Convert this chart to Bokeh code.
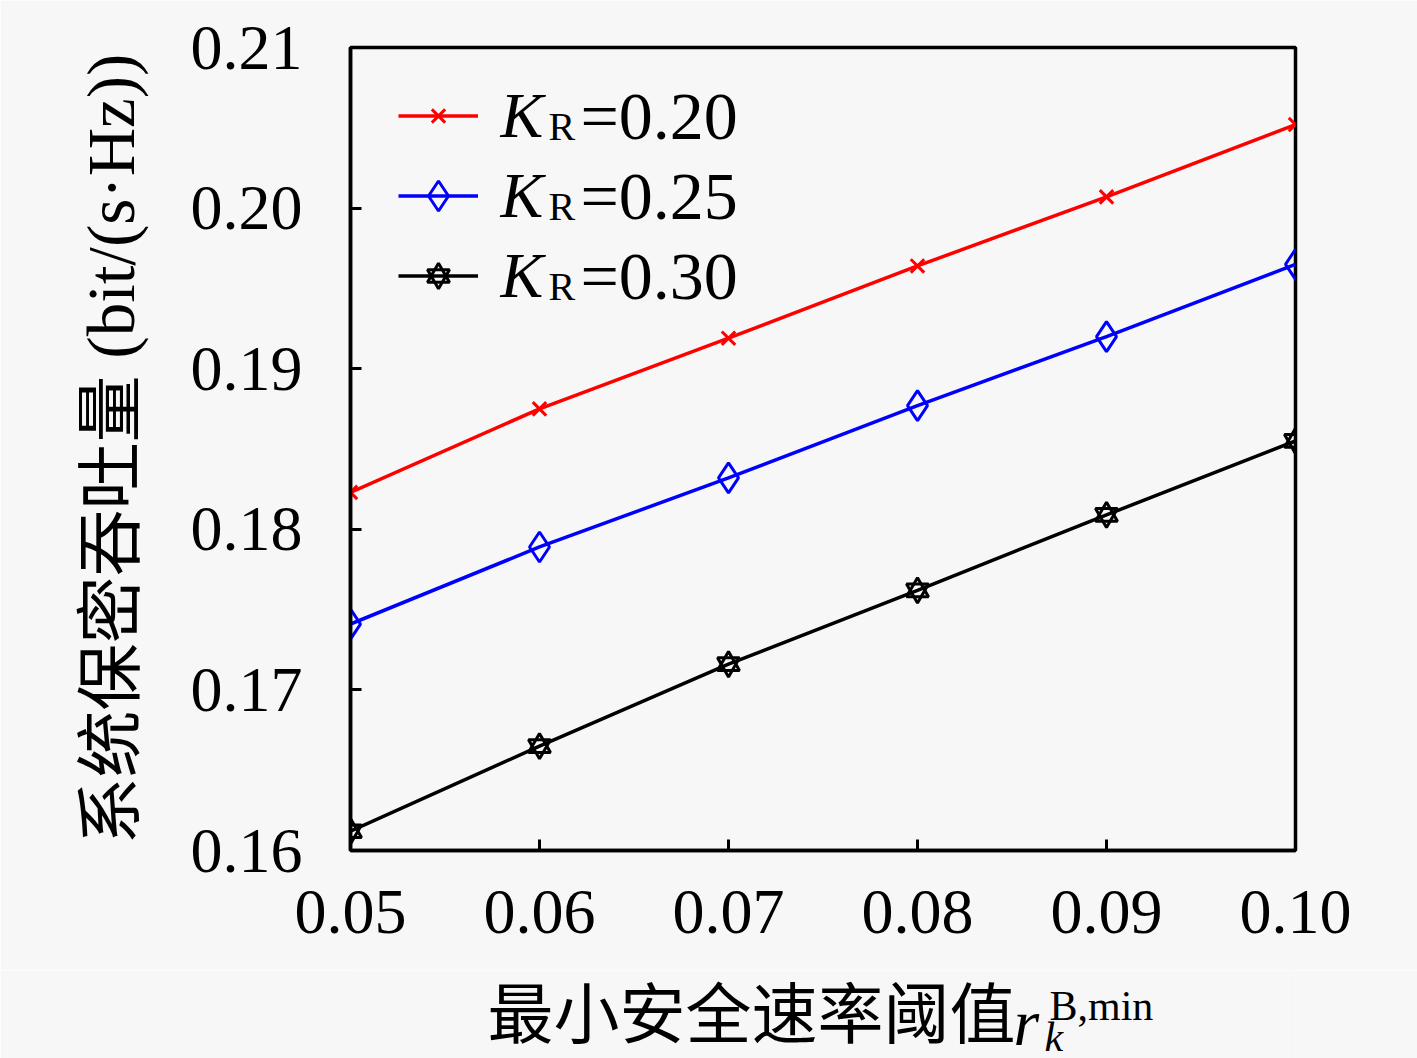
from bokeh.plotting import figure
from bokeh.layouts import column
from bokeh.models import (Range1d, FixedTicker, PrintfTickFormatter, Legend, LegendItem, Label)
from bokeh.embed import file_html
from bokeh.resources import INLINE

# ---- data ----
x_vals = [0.05, 0.06, 0.07, 0.08, 0.09, 0.10]
kr020 = [0.1823, 0.1875, 0.1919, 0.1964, 0.2007, 0.2052]
kr025 = [0.1741, 0.1789, 0.1832, 0.1877, 0.1920, 0.1965]
kr030 = [0.1612, 0.1665, 0.1716, 0.1762, 0.1809, 0.1855]
x_ticks = [0.05, 0.06, 0.07, 0.08, 0.09, 0.10]
y_ticks = [0.16, 0.17, 0.18, 0.19, 0.20, 0.21]
legend_values = ["=0.20", "=0.25", "=0.30"]
y_label = "系统保密吞吐量 (bit/(s·Hz))"
x_label_cjk = "最小安全速率阈值"

SERIF = "Liberation Serif, Noto Sans CJK SC"
BG = "#f7f7f7"

p = figure(width=1417, height=970, output_backend="svg", toolbar_location=None,
           x_range=Range1d(0.05, 0.10), y_range=Range1d(0.16, 0.21),
           min_border_left=350, min_border_right=122, min_border_top=47, min_border_bottom=120)
p.background_fill_color = BG
p.border_fill_color = BG
p.grid.visible = False
p.outline_line_color = "black"
p.outline_line_width = 3.5

for ax in (p.xaxis[0], p.yaxis[0]):
    ax.axis_line_width = 3.5
    ax.major_tick_line_width = 3
    ax.major_tick_in = 11
    ax.major_tick_out = 0
    ax.minor_tick_line_color = None
    ax.major_label_text_font = SERIF
    ax.major_label_text_font_size = "64px"
    ax.major_label_text_color = "black"

p.xaxis.ticker = FixedTicker(ticks=x_ticks)
p.yaxis.ticker = FixedTicker(ticks=y_ticks)
p.xaxis.formatter = PrintfTickFormatter(format="%.2f")
p.yaxis.formatter = PrintfTickFormatter(format="%.2f")
p.xaxis.major_label_standoff = 40
p.yaxis.major_label_standoff = 48

p.yaxis.axis_label = y_label
p.yaxis.axis_label_text_font = SERIF
p.yaxis.axis_label_text_font_size = "67px"
p.yaxis.axis_label_text_font_style = "normal"
p.yaxis.axis_label_text_color = "black"
p.yaxis.axis_label_standoff = 40

# ---- series ----
LW = 3.5
r1 = p.line(x_vals, kr020, line_color="red", line_width=LW)
m1 = p.scatter(x_vals, kr020, marker="x", size=19, line_color="red", line_width=3)
r2 = p.line(x_vals, kr025, line_color="blue", line_width=LW)
m2 = p.scatter(x_vals, kr025, marker="diamond", size=30, line_color="blue", fill_color=None, line_width=3)
r3 = p.line(x_vals, kr030, line_color="black", line_width=LW)
m3a = p.scatter(x_vals, kr030, marker="triangle", size=22, line_color="black", fill_color=None, line_width=3)
m3b = p.scatter(x_vals, kr030, marker="inverted_triangle", size=22, line_color="black", fill_color=None, line_width=3)

# one legend per entry so each marker keeps its size
legend_specs = [([r1, m1], 47, 735), ([r2, m2], 75, 655), ([r3, m3a, m3b], 55, 575)]
for rends, gh, yc in legend_specs:
    lg = Legend(items=[LegendItem(label=" ", renderers=rends)], location=(48, yc - gh / 2))
    lg.glyph_width = 80
    lg.glyph_height = gh
    lg.label_height = 5
    lg.label_width = 5
    lg.label_text_font_size = "5px"
    lg.label_standoff = 0
    lg.spacing = 0
    lg.padding = 0
    lg.margin = 0
    lg.border_line_color = None
    lg.background_fill_alpha = 0
    p.add_layout(lg)

# legend texts
for i, val in enumerate(legend_values):
    dy = -80 * i
    p.add_layout(Label(x=150, y=735 + dy, x_units="screen", y_units="screen", text="K",
                       text_font=SERIF, text_font_style="italic", text_font_size="64px",
                       text_color="black", text_baseline="alphabetic"))
    p.add_layout(Label(x=198, y=724 + dy, x_units="screen", y_units="screen", text="R",
                       text_font=SERIF, text_font_size="40px",
                       text_color="black", text_baseline="alphabetic"))
    p.add_layout(Label(x=230, y=735 + dy, x_units="screen", y_units="screen", text=val,
                       text_font=SERIF, text_font_size="68px",
                       text_color="black", text_baseline="alphabetic"))

# ---- x axis title, drawn in a strip below the plot ----
# the column aligns this strip's frame with the main frame (x 350..1295)
q = figure(width=1417, height=88, output_backend="svg", toolbar_location=None,
           x_range=Range1d(350, 1295), y_range=Range1d(0, 88),
           min_border_left=350, min_border_right=122, min_border_top=0, min_border_bottom=0)
q.axis.visible = False
q.grid.visible = False
q.outline_line_color = None
q.background_fill_color = BG
q.border_fill_color = BG
q.add_layout(Label(x=487, y=43, text=x_label_cjk, text_font=SERIF, text_font_size="66px",
                   text_color="black", text_baseline="middle"))
q.add_layout(Label(x=1013, y=36, text="r", text_font=SERIF, text_font_style="italic",
                   text_font_size="66px", text_color="black", text_baseline="alphabetic"))
q.add_layout(Label(x=1049, y=53, text="B,min", text_font=SERIF, text_font_size="42px",
                   text_color="black", text_baseline="alphabetic"))
q.add_layout(Label(x=1044, y=22, text="k", text_font=SERIF, text_font_style="italic",
                   text_font_size="42px", text_color="black", text_baseline="alphabetic"))

layout = column(p, q, spacing=0)
open("out.html", "w").write(file_html(layout, INLINE))
